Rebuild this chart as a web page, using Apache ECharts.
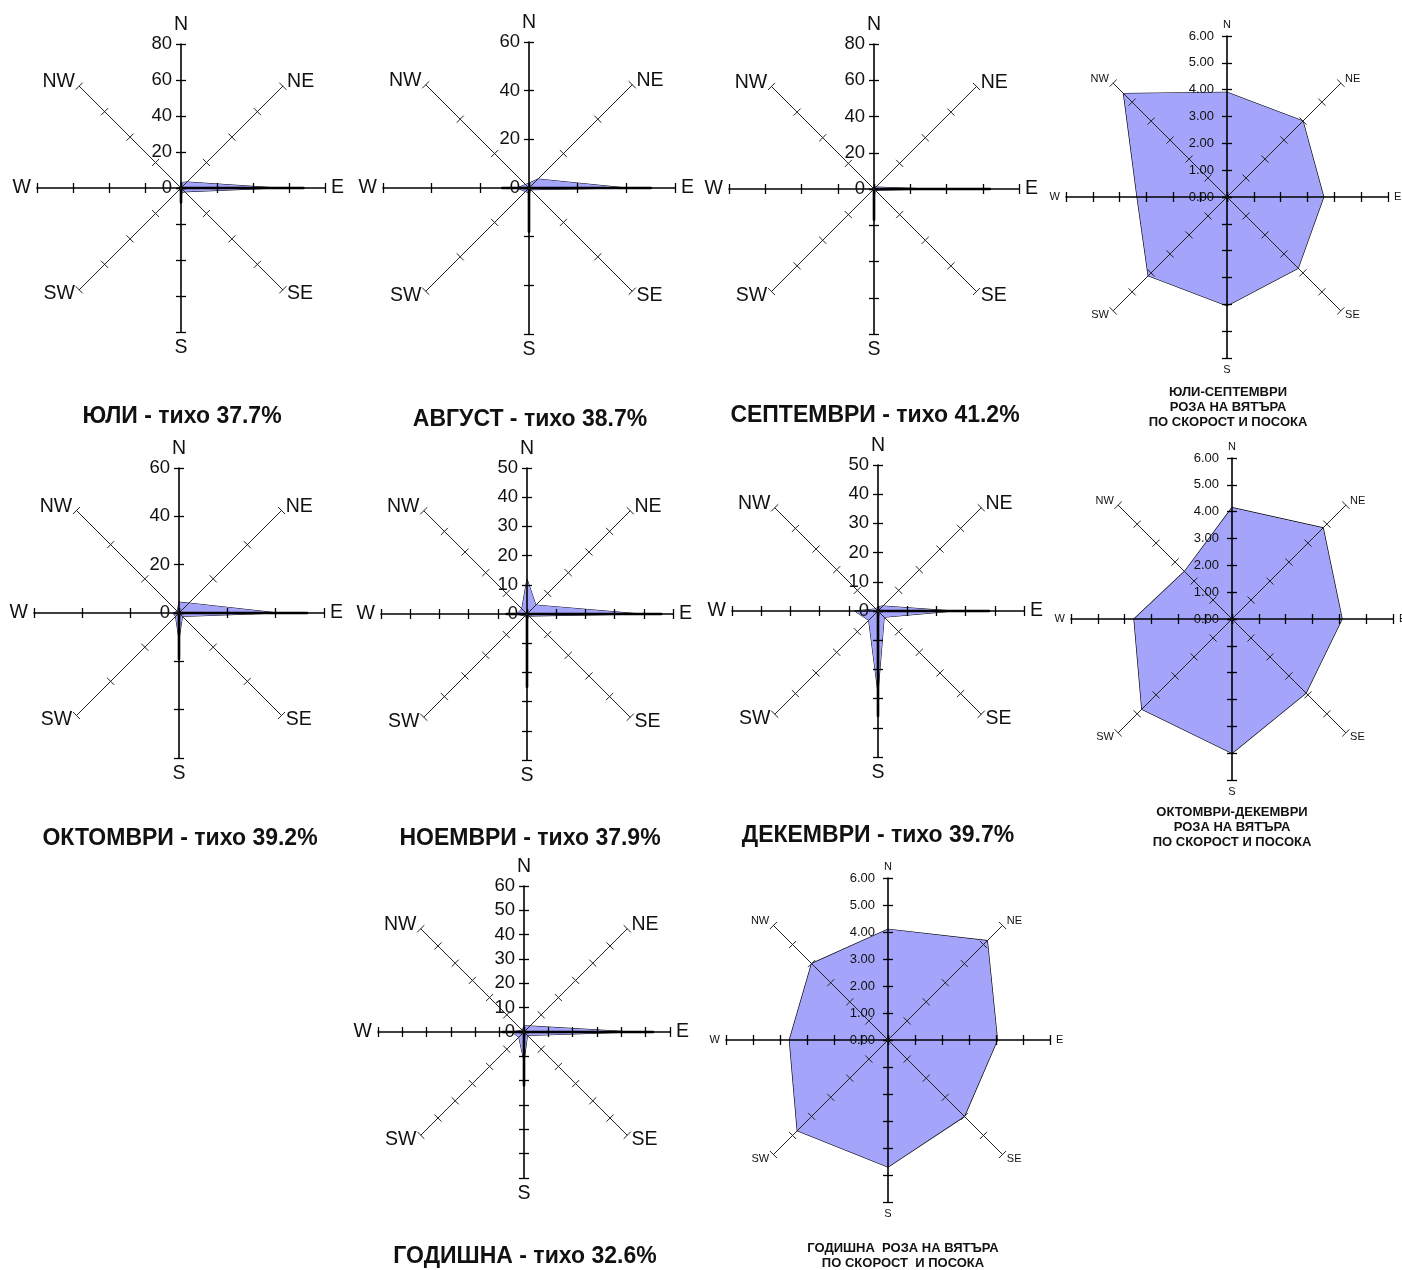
<!DOCTYPE html>
<html><head><meta charset="utf-8">
<script src="https://cdn.jsdelivr.net/npm/echarts@6/dist/echarts.min.js"></script>
<style>html,body{margin:0;padding:0;background:#fff}#c{width:1402px;height:1270px}</style>
</head><body><div id="c"></div>
<script>
// Directions in compass order
const DIRS = ['N','NE','E','SE','S','SW','W','NW'];

// Frequency roses (%), order N, NE, E, SE, S, SW, W, NW
// "fill" = shaded polygon, "line" = thick black spikes
const julyFill = [3, 4.7, 54, 3, 3, 1, 1.5, 0.5];
const julyLine = [0, 0, 68, 0, 8, 0, 0, 0];
const augFill  = [2, 5.2, 40, 1, 2, 2, 5, 2];
const augLine  = [0, 0, 50, 0, 18, 0, 11, 0];
const sepFill  = [1, 1.5, 32, 1, 1, 0.5, 0.5, 0.5];
const sepLine  = [0, 0, 64, 0, 17, 0, 0, 0];
const octFill  = [4.5, 5.8, 41, 2, 11, 2, 2.5, 1];
const octLine  = [0, 0, 53, 0, 19, 0, 0, 0];
const novFill  = [12, 4.3, 39, 1, 1.5, 1, 3.5, 2.5];
const novLine  = [0, 0, 46, 0, 25, 0, 7, 0];
const decFill  = [1.5, 2.4, 26, 3, 28, 4.5, 8, 1];
const decLine  = [0, 0, 38, 0, 36, 0, 0, 0];
const yearFill = [2.5, 3.5, 45, 2, 12, 3, 5, 1];
const yearLine = [0, 0, 53, 0, 22, 0, 9, 0];

// Speed roses (m/s), order N, NE, E, SE, S, SW, W, NW
const speedJulSep = [3.9, 4.0, 3.6, 3.75, 4.05, 4.15, 3.35, 5.45];
const speedOctDec = [4.15, 4.8, 4.1, 3.9, 5.0, 4.75, 3.65, 2.5];
const speedYear   = [4.1, 5.2, 4.05, 4.0, 4.7, 4.75, 3.65, 4.0];

// Tick labels
const ticks80 = [0, 20, 40, 60, 80];
const ticks60by20 = [0, 20, 40, 60];
const ticks50 = [0, 10, 20, 30, 40, 50];
const ticks60by10 = [0, 10, 20, 30, 40, 50, 60];
const ticksSpeed = [0, 1, 2, 3, 4, 5, 6];

// Titles
const titles = [
  'ЮЛИ - тихо 37.7%', 'АВГУСТ - тихо 38.7%', 'СЕПТЕМВРИ - тихо 41.2%',
  'ЮЛИ-СЕПТЕМВРИ\nРОЗА НА ВЯТЪРА\nПО СКОРОСТ И ПОСОКА',
  'ОКТОМВРИ - тихо 39.2%', 'НОЕМВРИ - тихо 37.9%', 'ДЕКЕМВРИ - тихо 39.7%',
  'ОКТОМВРИ-ДЕКЕМВРИ\nРОЗА НА ВЯТЪРА\nПО СКОРОСТ И ПОСОКА',
  'ГОДИШНА - тихо 32.6%', 'ГОДИШНА  РОЗА НА ВЯТЪРА\nПО СКОРОСТ  И ПОСОКА'
];

const roses = [
  {kind:'f', fill: julyFill, line: julyLine, ticks: ticks80, c:[181,188], r:144, t:[182,417]},
  {kind:'f', fill: augFill, line: augLine, ticks: ticks60by20, c:[529,188], r:146, t:[530,420]},
  {kind:'f', fill: sepFill, line: sepLine, ticks: ticks80, c:[874,189], r:145, t:[875,416]},
  {kind:'s', fill: speedJulSep, ticks: ticksSpeed, c:[1227,197], r:161, t:[1228,407]},
  {kind:'f', fill: octFill, line: octLine, ticks: ticks60by20, c:[179,613], r:145, t:[180,839]},
  {kind:'f', fill: novFill, line: novLine, ticks: ticks50, c:[527,614], r:146, t:[530,839]},
  {kind:'f', fill: decFill, line: decLine, ticks: ticks50, c:[878,611], r:146, t:[878,836]},
  {kind:'s', fill: speedOctDec, ticks: ticksSpeed, c:[1232,619], r:161, t:[1232,827]},
  {kind:'f', fill: yearFill, line: yearLine, ticks: ticks60by10, c:[524,1032], r:146, t:[525,1257]},
  {kind:'s', fill: speedYear, ticks: ticksSpeed, c:[888,1040], r:162, t:[903,1256]}
];

// ECharts radar lays indicators counter-clockwise from the top
const ORDER = [0, 7, 6, 5, 4, 3, 2, 1];
const toRadar = arr => ORDER.map(i => arr[i]);

const FONT = '"Liberation Sans", Arial, sans-serif';
const FILL = '#a4a4fa';

const radars = [], extra = [], series = [], graphics = [];
const diagStyle = {color: '#222', width: 1};
const mainStyle = {color: '#000', width: 1.6};
roses.forEach((ro, k) => {
  const isS = ro.kind === 's';
  const max = ro.ticks[ro.ticks.length - 1];
  const base = {
    center: ro.c, radius: ro.r, startAngle: 90, shape: 'polygon',
    splitNumber: ro.ticks.length - 1,
    splitLine: {show: false},
    splitArea: {show: false}
  };
  radars.push(Object.assign({}, base, {
    z: 5,
    indicator: ORDER.map(i => ({
      name: DIRS[i], min: 0, max: max,
      axisLabel: {show: i === 0},
      axisLine: {lineStyle: (i % 2 === 1) ? diagStyle : mainStyle},
      axisTick: {lineStyle: (i % 2 === 1) ? diagStyle : {color: '#000', width: 1.3}}
    })),
    axisLine: {show: true},
    axisTick: {show: true, length: 5},
    axisLabel: {
      show: false, color: '#111', fontFamily: FONT,
      fontSize: isS ? 13 : 18.5, margin: isS ? 13 : 9,
      formatter: v => isS ? Number(v).toFixed(2) : String(v)
    },
    axisName: {color: '#111', fontFamily: FONT, fontSize: isS ? 11 : 19.5},
    axisNameGap: isS ? 6 : 6
  }));
  // mirrored ticks so each tick crosses its axis
  extra.push(Object.assign({}, base, {
    z: 5, silent: true,
    indicator: ORDER.map(i => ({
      name: '', min: 0, max: max,
      axisTick: {lineStyle: (i % 2 === 1) ? diagStyle : {color: '#000', width: 1.3}}
    })),
    axisLine: {show: false},
    axisTick: {show: true, length: -5},
    axisLabel: {show: false},
    axisName: {show: false}
  }));
  const data = [{
    value: toRadar(ro.fill),
    areaStyle: {color: FILL, opacity: 1},
    lineStyle: {color: '#000', width: isS ? 1.3 : 1}
  }];
  if (ro.line) {
    data.push({value: toRadar(ro.line), lineStyle: {color: '#000', width: 2.6}});
  }
  series.push({type: 'radar', radarIndex: k, symbol: 'none', silent: true, z: 2, data});
  graphics.push({
    type: 'text', x: ro.t[0], y: ro.t[1], silent: true,
    style: {
      text: titles[k], align: 'center', verticalAlign: 'middle',
      fontFamily: FONT, fontWeight: 'bold', fontSize: isS ? 13 : 23,
      lineHeight: isS ? 15 : 26, fill: '#111'
    }
  });
});

const chart = echarts.init(document.getElementById('c'), null, {renderer: 'canvas'});
chart.setOption({
  backgroundColor: '#fff',
  animation: false,
  radar: radars.concat(extra),
  series: series,
  graphic: graphics
});
</script></body></html>
